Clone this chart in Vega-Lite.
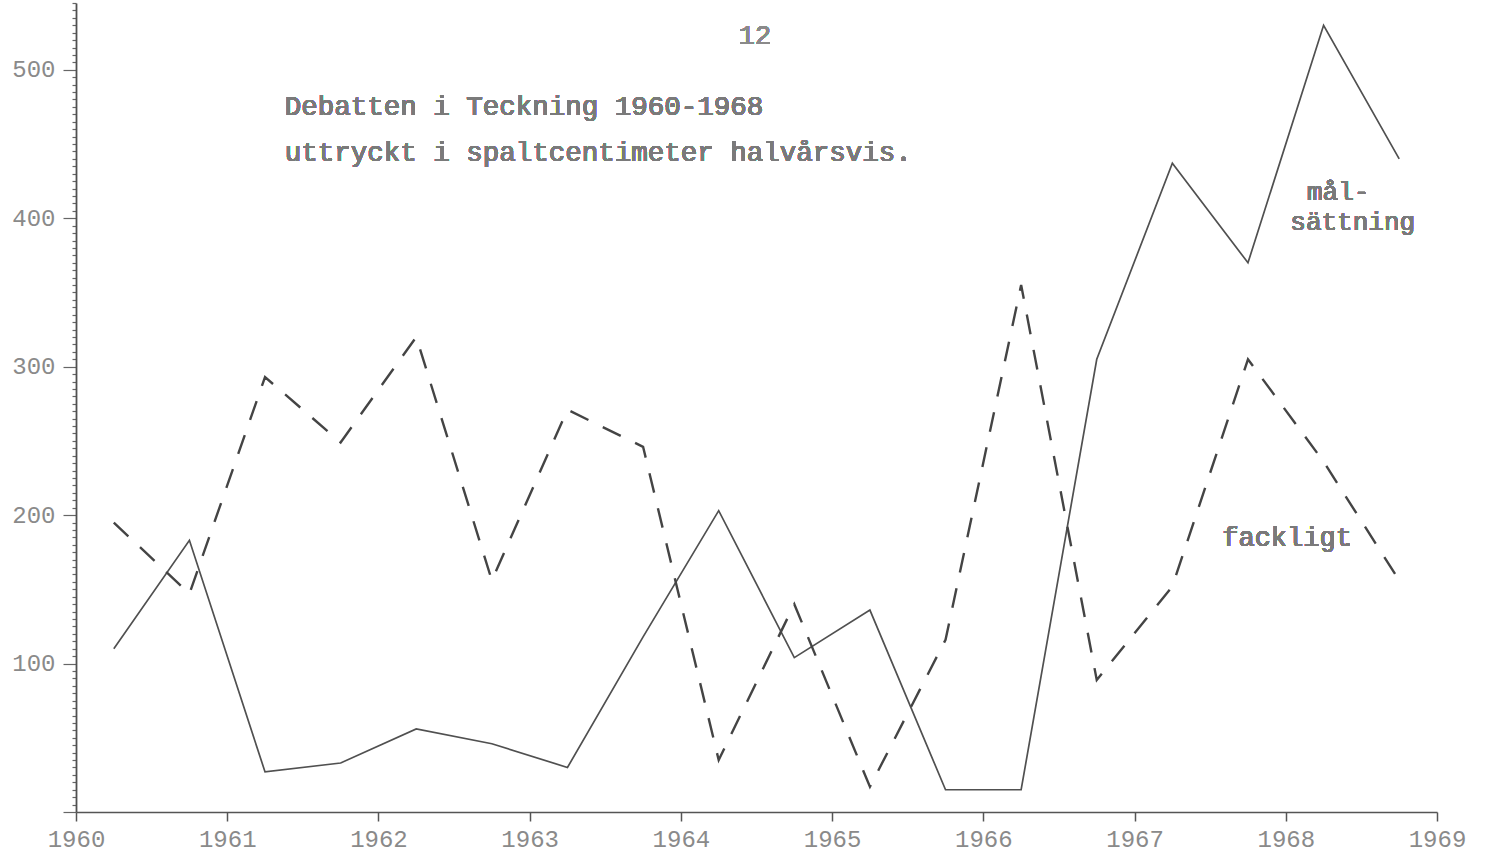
{
  "$schema": "https://vega.github.io/schema/vega-lite/v6.json",
  "width": 1361,
  "height": 809,
  "autosize": {"type": "none"},
  "padding": {"left": 76, "top": 3, "right": 56, "bottom": 51},
  "background": "#ffffff",
  "config": {"view": {"stroke": null}, "font": "Liberation Mono"},
  "datasets": {
    "serier": [
      {"t": 1960.25, "serie": "målsättning", "v": 110},
      {"t": 1960.75, "serie": "målsättning", "v": 183},
      {"t": 1961.25, "serie": "målsättning", "v": 27},
      {"t": 1961.75, "serie": "målsättning", "v": 33},
      {"t": 1962.25, "serie": "målsättning", "v": 56},
      {"t": 1962.75, "serie": "målsättning", "v": 46},
      {"t": 1963.25, "serie": "målsättning", "v": 30},
      {"t": 1963.75, "serie": "målsättning", "v": 118},
      {"t": 1964.25, "serie": "målsättning", "v": 203},
      {"t": 1964.75, "serie": "målsättning", "v": 104},
      {"t": 1965.25, "serie": "målsättning", "v": 136},
      {"t": 1965.75, "serie": "målsättning", "v": 15},
      {"t": 1966.25, "serie": "målsättning", "v": 15},
      {"t": 1966.75, "serie": "målsättning", "v": 305},
      {"t": 1967.25, "serie": "målsättning", "v": 437},
      {"t": 1967.75, "serie": "målsättning", "v": 370},
      {"t": 1968.25, "serie": "målsättning", "v": 530},
      {"t": 1968.75, "serie": "målsättning", "v": 440},
      {"t": 1960.25, "serie": "fackligt", "v": 195},
      {"t": 1960.75, "serie": "fackligt", "v": 147},
      {"t": 1961.25, "serie": "fackligt", "v": 293},
      {"t": 1961.75, "serie": "fackligt", "v": 249},
      {"t": 1962.25, "serie": "fackligt", "v": 320},
      {"t": 1962.75, "serie": "fackligt", "v": 156},
      {"t": 1963.25, "serie": "fackligt", "v": 271},
      {"t": 1963.75, "serie": "fackligt", "v": 246},
      {"t": 1964.25, "serie": "fackligt", "v": 35},
      {"t": 1964.75, "serie": "fackligt", "v": 140},
      {"t": 1965.25, "serie": "fackligt", "v": 17},
      {"t": 1965.75, "serie": "fackligt", "v": 116},
      {"t": 1966.25, "serie": "fackligt", "v": 355},
      {"t": 1966.75, "serie": "fackligt", "v": 89},
      {"t": 1967.25, "serie": "fackligt", "v": 152},
      {"t": 1967.75, "serie": "fackligt", "v": 305},
      {"t": 1968.25, "serie": "fackligt", "v": 236},
      {"t": 1968.75, "serie": "fackligt", "v": 156}
    ]
  },
  "data": {"name": "serier"},
  "layer": [
    {
      "transform": [{"filter": "datum.serie === 'målsättning'"}],
      "mark": {"type": "line", "color": "#505050", "strokeWidth": 1.7},
      "encoding": {
        "x": {
          "field": "t", "type": "quantitative",
          "scale": {"domain": [1960, 1969], "nice": false, "zero": false},
          "axis": {
            "values": [1960, 1961, 1962, 1963, 1964, 1965, 1966, 1967, 1968, 1969],
            "tickCount": 20,
            "format": "d", "title": null, "grid": false,
            "labelFont": "Liberation Mono", "labelFontSize": 24, "labelColor": "#8a8a8a",
            "labelPadding": 6, "labelFlush": false, "labelOverlap": false,
            "tickSize": 9, "tickColor": "#555555", "tickWidth": 1.5,
            "domainColor": "#555555", "domainWidth": 1.6
          }
        },
        "y": {
          "field": "v", "type": "quantitative",
          "scale": {"domain": [0, 545], "nice": false, "zero": true},
          "axis": {
            "values": [0,5,10,15,20,25,30,35,40,45,50,55,60,65,70,75,80,85,90,95,100,105,110,115,120,125,130,135,140,145,150,155,160,165,170,175,180,185,190,195,200,205,210,215,220,225,230,235,240,245,250,255,260,265,270,275,280,285,290,295,300,305,310,315,320,325,330,335,340,345,350,355,360,365,370,375,380,385,390,395,400,405,410,415,420,425,430,435,440,445,450,455,460,465,470,475,480,485,490,495,500,505,510,515,520,525,530,535,540,545],
            "tickCount": 200,
            "labelExpr": "datum.value % 100 === 0 && datum.value > 0 ? datum.label : ''",
            "title": null, "grid": false,
            "labelFont": "Liberation Mono", "labelFontSize": 24, "labelColor": "#8a8a8a",
            "labelPadding": 8, "labelFlush": false, "labelOverlap": false,
            "tickSize": {"condition": {"test": "datum.value % 100 === 0", "value": 13}, "value": 4},
            "tickColor": "#666666", "tickWidth": 1.2,
            "domainColor": "#505050", "domainWidth": 1.8
          }
        }
      }
    },
    {
      "transform": [{"filter": "datum.serie === 'fackligt'"}],
      "mark": {"type": "line", "color": "#444444", "strokeWidth": 2.4, "strokeDash": [20, 16]},
      "encoding": {
        "x": {"field": "t", "type": "quantitative"},
        "y": {"field": "v", "type": "quantitative"}
      }
    },
    {
      "mark": {"type": "text", "align": "center", "baseline": "middle", "font": "Liberation Mono", "fontSize": 27, "color": "#8a8a8a"},
      "encoding": {
        "x": {"datum": 1964.49, "type": "quantitative"},
        "y": {"datum": 523, "type": "quantitative"},
        "text": {"value": "12"}
      }
    },
    {
      "mark": {"type": "text", "align": "left", "baseline": "middle", "font": "Liberation Mono", "fontSize": 27.5, "color": "#7a7a7a"},
      "encoding": {
        "x": {"datum": 1961.38, "type": "quantitative"},
        "y": {"datum": 475, "type": "quantitative"},
        "text": {"value": "Debatten i Teckning 1960-1968"}
      }
    },
    {
      "mark": {"type": "text", "align": "left", "baseline": "middle", "font": "Liberation Mono", "fontSize": 27.5, "color": "#7a7a7a"},
      "encoding": {
        "x": {"datum": 1961.38, "type": "quantitative"},
        "y": {"datum": 444, "type": "quantitative"},
        "text": {"value": "uttryckt i spaltcentimeter halvårsvis."}
      }
    },
    {
      "mark": {"type": "text", "align": "left", "baseline": "middle", "font": "Liberation Mono", "fontSize": 26, "color": "#7a7a7a"},
      "encoding": {
        "x": {"datum": 1968.14, "type": "quantitative"},
        "y": {"datum": 418, "type": "quantitative"},
        "text": {"value": "mål-"}
      }
    },
    {
      "mark": {"type": "text", "align": "left", "baseline": "middle", "font": "Liberation Mono", "fontSize": 26, "color": "#7a7a7a"},
      "encoding": {
        "x": {"datum": 1968.03, "type": "quantitative"},
        "y": {"datum": 397.5, "type": "quantitative"},
        "text": {"value": "sättning"}
      }
    },
    {
      "mark": {"type": "text", "align": "left", "baseline": "middle", "font": "Liberation Mono", "fontSize": 27, "color": "#7a7a7a"},
      "encoding": {
        "x": {"datum": 1967.58, "type": "quantitative"},
        "y": {"datum": 184.6, "type": "quantitative"},
        "text": {"value": "fackligt"}
      }
    }
  ]
}
